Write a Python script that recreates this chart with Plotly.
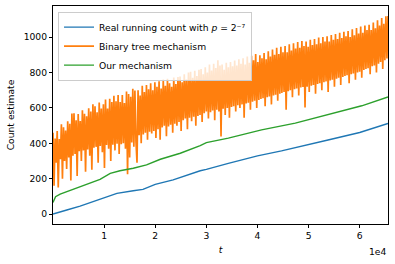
import numpy as np
import plotly.graph_objects as go

# Real running count (p = 2^-7)
real_t = [0, 700, 2700, 5300, 7900, 10000, 12500, 15700, 17600, 20000, 23500,
          28800, 30000, 34300, 40000, 44700, 50000, 53800, 60000, 61600, 65536]
real_v = [0, 5, 23, 45, 70, 92, 117, 132, 140, 168, 193,
          245, 253, 287, 329, 357, 391, 419, 461, 476, 512]

# Our mechanism
ours_t = [0, 500, 1400, 4000, 6600, 9200, 11200, 13100, 15700, 18300, 21000,
          24900, 28800, 30000, 34300, 40000, 40800, 47400, 53800, 60400, 65536]
ours_v = [65, 98, 113, 140, 168, 196, 230, 245, 259, 278, 310,
          344, 387, 404, 429, 470, 476, 514, 561, 612, 662]

# Binary tree mechanism (dense noisy estimate, 320 samples over t in [0, 65536])
tree_v = [
    460, 160, 427, 290, 469, 150, 424, 310, 508, 200, 490, 300, 472, 255, 524, 320, 511, 190, 568, 330,
    570, 340, 530, 215, 566, 355, 526, 300, 587, 360, 567, 240, 553, 365, 598, 330, 579, 250, 620, 375,
    610, 380, 575, 290, 631, 385, 596, 350, 621, 260, 647, 390, 597, 370, 652, 300, 633, 392, 668, 360,
    638, 398, 673, 340, 633, 395, 673, 400, 628, 370, 693, 225, 678, 320, 663, 405, 708, 380, 699, 410,
    290, 700, 445, 670, 400, 725, 450, 690, 460, 730, 420, 705, 465, 740, 455, 700, 470, 745, 430, 720,
    480, 750, 420, 710, 490, 760, 500, 725, 440, 765, 495, 740, 505, 720, 460, 772, 510, 735, 500, 775,
    520, 778, 470, 745, 530, 790, 540, 760, 480, 800, 545, 805, 525, 770, 550, 810, 500, 780, 555, 815,
    560, 820, 520, 790, 570, 830, 580, 800, 540, 845, 575, 812, 585, 850, 530, 825, 590, 870, 580, 840,
    438, 845, 595, 815, 560, 855, 600, 830, 545, 860, 605, 835, 610, 868, 580, 840, 615, 875, 600, 850,
    620, 880, 545, 845, 625, 890, 630, 855, 590, 895, 635, 870, 640, 905, 600, 860, 645, 898, 650, 880,
    655, 910, 610, 875, 660, 920, 665, 890, 620, 930, 670, 900, 675, 940, 640, 905, 680, 945, 685, 915,
    690, 950, 590, 915, 695, 960, 700, 925, 660, 965, 705, 935, 710, 972, 670, 940, 715, 978, 718, 950,
    602, 975, 720, 945, 690, 985, 725, 955, 730, 990, 680, 960, 735, 998, 740, 965, 700, 1000, 745, 975,
    750, 1005, 690, 975, 755, 1012, 760, 985, 720, 1018, 765, 990, 770, 1025, 730, 995, 775, 1030, 780, 1005,
    785, 1035, 740, 1000, 790, 1045, 795, 1010, 760, 1052, 800, 1020, 805, 1060, 770, 1025, 815, 1065, 820, 1040,
    825, 1070, 790, 1040, 835, 1082, 840, 1050, 800, 1095, 850, 1065, 860, 1108, 820, 1075, 870, 1118, 880, 1120,
]
tree_t = np.linspace(0, 65536, len(tree_v))

x_tickvals = [10000, 20000, 30000, 40000, 50000, 60000]
x_ticktext = ["1", "2", "3", "4", "5", "6"]
y_tickvals = [0, 200, 400, 600, 800, 1000]

FONT = "DejaVu Sans"
FS = 9.2
LW = 1.4

fig = go.Figure()
fig.add_trace(go.Scatter(x=real_t, y=real_v, mode="lines",
                         line=dict(color="#1f77b4", width=LW),
                         name="Real running count with <i>p</i> = 2⁻⁷"))
fig.add_trace(go.Scatter(x=tree_t, y=tree_v, mode="lines",
                         line=dict(color="#ff7f0e", width=1.7, simplify=False),
                         name="Binary tree mechanism"))
fig.add_trace(go.Scatter(x=ours_t, y=ours_v, mode="lines",
                         line=dict(color="#2ca02c", width=LW),
                         name="Our mechanism"))

axis_common = dict(showline=True, linecolor="black", linewidth=0.8, mirror=True,
                   ticks="outside", ticklen=3.2, tickwidth=0.8, tickcolor="black",
                   showgrid=False, zeroline=False, automargin=False,
                   tickfont=dict(family=FONT, size=FS, color="black"))

fig.update_layout(
    width=395, height=264,
    margin=dict(l=53, r=7, t=6, b=40, autoexpand=False),
    paper_bgcolor="white", plot_bgcolor="white",
    font=dict(family=FONT, size=FS, color="black"),
    xaxis=dict(range=[0, 65536], tickvals=x_tickvals, ticktext=x_ticktext,
               title=dict(text="<i>t</i>", font=dict(family=FONT, size=FS), standoff=6),
               **axis_common),
    yaxis=dict(range=[-56, 1176], tickvals=y_tickvals,
               title=dict(text="Count estimate", font=dict(family=FONT, size=FS), standoff=7),
               **axis_common),
    legend=dict(x=0.015, y=0.974, xanchor="left", yanchor="top",
                bgcolor="rgba(255,255,255,0.8)", bordercolor="#cccccc", borderwidth=1,
                font=dict(family=FONT, size=FS), tracegroupgap=0),
    showlegend=True,
    annotations=[dict(text="1e4", xref="paper", yref="paper", x=1.0, y=-0.128,
                      xanchor="right", yanchor="middle", showarrow=False,
                      font=dict(family=FONT, size=FS, color="black"))],
)

fig.write_html("out.html", config={"displayModeBar": False},
               post_script="document.body.style.margin='0';")
